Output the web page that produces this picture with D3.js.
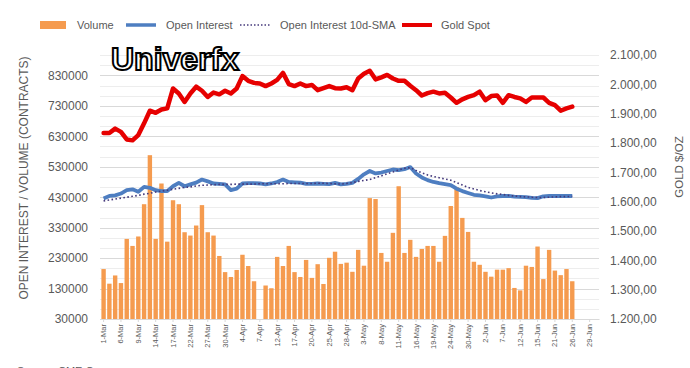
<!DOCTYPE html>
<html>
<head>
<meta charset="utf-8">
<script src="https://cdn.jsdelivr.net/npm/d3@7"></script>
<style>
  body { margin: 0; background: #fff; }
  svg { display: block; font-family: "Liberation Sans", Arial, sans-serif; }
</style>
</head>
<body>
<div id="chart"></div>
<script>
// trading days, Mar - Jun
const days = [
  "1-Mar","2-Mar","3-Mar","6-Mar","7-Mar","8-Mar","9-Mar","10-Mar","13-Mar","14-Mar","15-Mar","16-Mar",
  "17-Mar","20-Mar","21-Mar","22-Mar","23-Mar","24-Mar","27-Mar","28-Mar","29-Mar","30-Mar","31-Mar",
  "3-Apr","4-Apr","5-Apr","6-Apr","7-Apr","10-Apr","11-Apr","12-Apr","13-Apr","14-Apr","17-Apr","18-Apr",
  "19-Apr","20-Apr","21-Apr","24-Apr","25-Apr","26-Apr","27-Apr","28-Apr",
  "1-May","2-May","3-May","4-May","5-May","8-May","9-May","10-May","11-May","12-May","15-May","16-May",
  "17-May","18-May","19-May","22-May","23-May","24-May","25-May","26-May","30-May","31-May",
  "1-Jun","2-Jun","5-Jun","6-Jun","7-Jun","8-Jun","9-Jun","12-Jun","13-Jun","14-Jun","15-Jun","16-Jun",
  "20-Jun","21-Jun","22-Jun","23-Jun","26-Jun","27-Jun","28-Jun","29-Jun","30-Jun"
];

const volume = [
  194000,146000,173000,148000,293000,270000,301000,407000,568000,293000,
  475000,284000,420000,407000,315000,304000,337000,404000,315000,304000,
  237000,184000,168000,191000,241000,204000,154000,null,140000,131000,
  234000,204000,270000,184000,168000,224000,165000,210000,145000,231000,
  251000,211000,215000,185000,257000,205000,427000,424000,247000,218000,
  313000,466000,247000,290000,234000,260000,270000,270000,218000,303000,
  401000,463000,362000,316000,218000,208000,185000,169000,192000,192000,
  197000,132000,124000,205000,201000,268000,161000,257000,189000,174000,
  194000,154000
];

const openInterest = [
  426000,434000,436000,442000,453000,456000,448000,464000,461000,453000,
  450000,450000,466000,477000,466000,472000,478000,488000,482000,475000,
  474000,472000,453000,458000,475000,476000,476000,475000,472000,475000,
  480000,488000,480000,479000,478000,474000,474000,475000,474000,473000,
  477000,472000,474000,477000,490000,505000,516000,508000,511000,516000,
  521000,519000,522000,529000,508000,495000,486000,480000,476000,473000,
  470000,458000,450000,444000,438000,436000,433000,429000,433000,434000,
  434000,432000,431000,430000,428000,427000,433000,434000,434000,434000,
  434000,434000
];

const oiSma = [
  418000,421000,424000,427000,430000,433000,436000,440000,443000,447000,
  450000,453000,456000,459000,462000,464000,467000,469000,470000,471000,
  472000,472000,472000,473000,473000,473000,473000,474000,474000,474000,
  474000,474000,475000,475000,475000,475000,475000,476000,476000,475000,
  474000,473000,475000,478000,482000,485000,488000,494000,500000,507000,
  513000,519000,525000,527000,518000,510000,503000,498000,494000,490000,
  486000,478000,470000,462000,457000,452000,448000,444000,441000,439000,
  436000,434000,432000,431000,430000,429000,429000,430000,431000,432000,
  432000,433000
];

const goldSpot = [
  1834,1834,1849,1838,1812,1809,1827,1867,1910,1903,
  1914,1918,1986,1969,1940,1969,1992,1978,1957,1972,
  1966,1978,1969,1986,2028,2012,2005,2003,1994,2003,
  2015,2039,2001,1994,2003,1994,1998,1980,1987,1994,
  1987,1986,1990,1980,2020,2036,2046,2017,2024,2032,
  2020,2012,2012,1995,1980,1962,1970,1975,1969,1971,
  1955,1937,1949,1957,1963,1975,1946,1960,1962,1937,
  1963,1957,1952,1940,1955,1955,1955,1937,1929,1910,
  1918,1924
];

const leftTicks = [30000,130000,230000,330000,430000,530000,630000,730000,830000];
const rightTicks = [1200,1300,1400,1500,1600,1700,1800,1900,2000,2100];
const legendNames = ["Volume","Open Interest","Open Interest 10d-SMA","Gold Spot"];

const width = 690, height = 368;
const plot = {left: 100, right: 599, top: 55, bottom: 319};

const colors = {bar: "#f59b4f", oi: "#4e7ec1", sma: "#453a7c", gold: "#e60000", text: "#595959"};

const svg = d3.select("#chart").append("svg")
  .attr("width", width)
  .attr("height", height);

const x = d3.scaleBand()
  .domain(d3.range(days.length))
  .range([plot.left, plot.right])
  .padding(0.24);

const yLeft = d3.scaleLinear().domain([30000, 897000]).range([plot.bottom, plot.top]);
const yRight = d3.scaleLinear().domain([1200, 2100]).range([plot.bottom, plot.top]);

const cx = i => x(i) + x.bandwidth() / 2;

// gridlines: major at left ticks, two minor between
const minorTicks = d3.range(30000, 897000, 100000 / 3);
svg.append("g").selectAll("line")
  .data(minorTicks)
  .enter().append("line")
  .attr("x1", plot.left).attr("x2", plot.right)
  .attr("y1", d => Math.round(yLeft(d)) + 0.5)
  .attr("y2", d => Math.round(yLeft(d)) + 0.5)
  .attr("stroke", (d, i) => i % 3 === 0 ? "#d9d9d9" : "#ededed")
  .attr("stroke-width", 1);

// volume bars
svg.append("g").selectAll("rect")
  .data(volume.map((v, i) => ({i: i, v: v})).filter(d => d.v !== null))
  .enter().append("rect")
  .attr("x", d => x(d.i))
  .attr("width", x.bandwidth())
  .attr("y", d => yLeft(d.v))
  .attr("height", d => plot.bottom - yLeft(d.v))
  .attr("fill", colors.bar);

// x axis
const xAxis = svg.append("g")
  .attr("transform", "translate(0," + plot.bottom + ")")
  .call(d3.axisBottom(x)
    .tickValues(d3.range(0, days.length, 3))
    .tickFormat(i => days[i])
    .tickSize(3)
    .tickSizeOuter(0));
xAxis.select(".domain").attr("stroke", "#d9d9d9");
xAxis.selectAll(".tick line").attr("stroke", "#d9d9d9");
xAxis.selectAll(".tick text")
  .attr("transform", "rotate(-90)")
  .attr("text-anchor", "end")
  .attr("x", -5)
  .attr("y", 0)
  .attr("dy", "0.33em")
  .attr("fill", colors.text)
  .style("font-size", "7.5px");

// left axis
const leftAxis = svg.append("g")
  .attr("transform", "translate(" + plot.left + ",0)")
  .call(d3.axisLeft(yLeft).tickValues(leftTicks).tickFormat(d3.format("d")).tickSize(0).tickPadding(12));
leftAxis.select(".domain").remove();
leftAxis.selectAll("text").attr("fill", colors.text).style("font-size", "12px");

// right axis
const euro = d3.formatLocale({decimal: ",", thousands: ".", grouping: [3], currency: ["", ""]});
const rightAxis = svg.append("g")
  .attr("transform", "translate(" + plot.right + ",0)")
  .call(d3.axisRight(yRight).tickValues(rightTicks).tickFormat(euro.format(",.2f")).tickSize(0).tickPadding(11));
rightAxis.select(".domain").remove();
rightAxis.selectAll("text").attr("fill", colors.text).style("font-size", "12px");

// axis titles
svg.append("text")
  .attr("transform", "translate(28,178) rotate(-90)")
  .attr("text-anchor", "middle")
  .attr("fill", colors.text)
  .style("font-size", "12px")
  .text("OPEN INTEREST / VOLUME (CONTRACTS)");

svg.append("text")
  .attr("transform", "translate(683,167) rotate(-90)")
  .attr("text-anchor", "middle")
  .attr("fill", colors.text)
  .style("font-size", "11.5px")
  .text("GOLD $/OZ");

// lines
const oiLine = d3.line().x((d, i) => cx(i)).y(d => yLeft(d));
const goldLine = d3.line().x((d, i) => cx(i)).y(d => yRight(d));

svg.append("path")
  .datum(openInterest)
  .attr("d", oiLine)
  .attr("fill", "none")
  .attr("stroke", colors.oi)
  .attr("stroke-width", 3.8)
  .attr("stroke-linejoin", "round");

svg.append("path")
  .datum(oiSma)
  .attr("d", oiLine)
  .attr("fill", "none")
  .attr("stroke", colors.sma)
  .attr("stroke-width", 1.6)
  .attr("stroke-dasharray", "1.6,2.4");

svg.append("path")
  .datum(goldSpot)
  .attr("d", goldLine)
  .attr("fill", "none")
  .attr("stroke", colors.gold)
  .attr("stroke-width", 4.5)
  .attr("stroke-linejoin", "round")
  .attr("stroke-linecap", "round");

// legend
const legend = svg.append("g").attr("transform", "translate(0,25)");
legend.append("rect").attr("x", 40).attr("y", -4).attr("width", 26).attr("height", 8).attr("fill", colors.bar);
legend.append("line").attr("x1", 126).attr("x2", 156).attr("stroke", colors.oi).attr("stroke-width", 3.5);
legend.append("line").attr("x1", 240).attr("x2", 271).attr("stroke", colors.sma).attr("stroke-width", 1.4).attr("stroke-dasharray", "1.5,2");
legend.append("line").attr("x1", 402).attr("x2", 432).attr("stroke", colors.gold).attr("stroke-width", 4);
const legendX = [77, 166, 280, 441];
legend.selectAll("text.lbl")
  .data(legendNames)
  .enter().append("text")
  .attr("class", "lbl")
  .attr("x", (d, i) => legendX[i])
  .attr("dy", "0.35em")
  .attr("fill", colors.text)
  .style("font-size", "11px")
  .text(d => d);

// watermark
svg.append("text")
  .attr("x", 111)
  .attr("y", 70)
  .attr("fill", "#fff")
  .attr("stroke", "#000")
  .attr("stroke-width", 2)
  .style("font-size", "32px")
  .style("font-weight", "bold")
  .text("Univerfx");

// source line, cut by the bottom edge as in the original
svg.append("text")
  .attr("x", 17)
  .attr("y", 375)
  .attr("fill", colors.text)
  .style("font-size", "11px")
  .text("Source: CME Group");
</script>
</body>
</html>
